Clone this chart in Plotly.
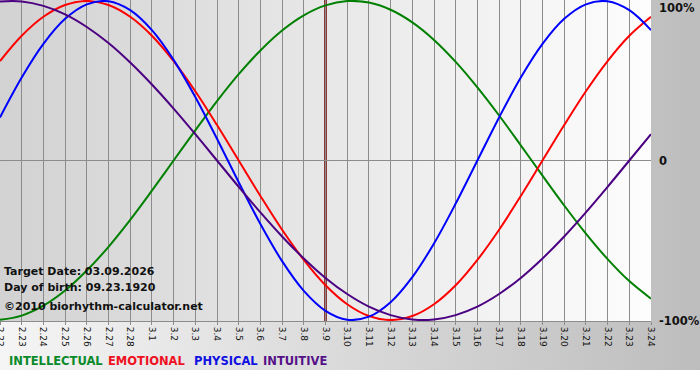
import base64
import plotly.graph_objects as go

# ---------------- data ----------------
dates = ["2.22", "2.23", "2.24", "2.25", "2.26", "2.27", "2.28", "3.1", "3.2", "3.3",
         "3.4", "3.5", "3.6", "3.7", "3.8", "3.9", "3.10", "3.11", "3.12", "3.13",
         "3.14", "3.15", "3.16", "3.17", "3.18", "3.19", "3.20", "3.21", "3.22", "3.23", "3.24"]

intellectual = [-99.9, -97.2, -91.0, -81.5, -69.0, -54.1, -37.2, -18.9, 0.0, 18.9,
                37.2, 54.1, 69.0, 81.5, 91.0, 97.2, 99.9, 99.0, 94.5, 86.6,
                75.6, 61.8, 45.8, 28.2, 9.5, -9.5, -28.2, -45.8, -61.8, -75.6, -86.6]
emotional = [62.3, 78.2, 90.1, 97.5, 100.0, 97.5, 90.1, 78.2, 62.3, 43.4,
             22.2, 0.0, -22.2, -43.4, -62.3, -78.2, -90.1, -97.5, -100.0, -97.5,
             -90.1, -78.2, -62.3, -43.4, -22.2, 0.0, 22.2, 43.4, 62.3, 78.2, 90.1]
physical = [27.0, 52.0, 73.1, 88.8, 97.9, 99.8, 94.2, 81.7, 63.1, 39.8,
            13.6, -13.6, -39.8, -63.1, -81.7, -94.2, -99.8, -97.9, -88.8, -73.1,
            -52.0, -27.0, 0.0, 27.0, 52.0, 73.1, 88.8, 97.9, 99.8, 94.2, 81.7]
intuitive = [99.7, 99.7, 96.9, 91.6, 83.7, 73.6, 61.4, 47.6, 32.5, 16.5,
             0.0, -16.5, -32.5, -47.6, -61.4, -73.6, -83.7, -91.6, -96.9, -99.7,
             -99.7, -96.9, -91.6, -83.7, -73.6, -61.4, -47.6, -32.5, -16.5, 0.0, 16.5]

series_names = ["INTELLECTUAL", "EMOTIONAL", "PHYSICAL", "INTUITIVE"]
series_values = [intellectual, emotional, physical, intuitive]

y_tick_values = [100, 0, -100]
y_tick_labels = ["100%", "0", "-100%"]

target_label = "3.9"
info_lines = ["Target Date: 03.09.2026", "Day of birth: 09.23.1920", "\u00a92010 biorhythm-calculator.net"]

# ---------------- styles ----------------
W, H = 700, 380
ML, MR, MT, MB = 0, 49, 0, 59
PW, PH = W - ML - MR, H - MT - MB
FONT = "DejaVu Sans"
series_colors = ["#008000", "#ff0000", "#0000ff", "#4b0082"]
legend_text_colors = ["#0a8a2a", "#ee1122", "#1010e0", "#551188"]
legend_x_px = [8, 107, 193, 262]
grid_color = "#8c8c8c"


def px_x(p):
    return (p - ML) / PW


def px_y(p):
    return (MT + PH - p) / PH


def grad_uri(c0, c1, w, h):
    svg = (f'<svg xmlns="http://www.w3.org/2000/svg" width="{w}" height="{h}" '
           f'viewBox="0 0 {w} {h}" preserveAspectRatio="none">'
           f'<defs><linearGradient id="g" x1="0" y1="0" x2="1" y2="0">'
           f'<stop offset="0" stop-color="{c0}"/><stop offset="1" stop-color="{c1}"/>'
           f'</linearGradient></defs><rect width="{w}" height="{h}" fill="url(#g)"/></svg>')
    return "data:image/svg+xml;base64," + base64.b64encode(svg.encode()).decode()


x_idx = list(range(len(dates)))
fig = go.Figure()
for name, vals, col in zip(series_names, series_values, series_colors):
    fig.add_trace(go.Scatter(x=x_idx, y=vals, mode="lines", name=name,
                             line=dict(color=col, width=2, shape="spline", smoothing=1),
                             hoverinfo="skip"))

target_x = dates.index(target_label)

images = [
    dict(source=grad_uri("#f5f5f5", "#bdbdbd", W, 370), xref="paper", yref="paper",
         x=px_x(0), y=px_y(0), sizex=W / PW, sizey=370 / PH, sizing="stretch",
         xanchor="left", yanchor="top", layer="below"),
    dict(source=grad_uri("#d2d2d2", "#fdfdfd", PW, PH), xref="paper", yref="paper",
         x=0, y=1, sizex=1, sizey=1, sizing="stretch",
         xanchor="left", yanchor="top", layer="below"),
]

shapes = [dict(type="line", xref="x", yref="paper", x0=target_x, x1=target_x, y0=0, y1=1,
               line=dict(color="#6e0000", width=2.5), layer="between")]

annotations = []
for lbl, val, ys in zip(y_tick_labels, y_tick_values, [-7, 0, -1]):
    annotations.append(dict(text=lbl, xref="paper", yref="y", x=px_x(657), y=val,
                            xanchor="left", yanchor="middle", yshift=ys, showarrow=False,
                            font=dict(family=FONT, size=11.5, color="#111111", weight="bold")))
for line, py in zip(info_lines, [271, 287, 306]):
    annotations.append(dict(text=line, xref="paper", yref="paper", x=px_x(2), y=px_y(py),
                            xanchor="left", yanchor="middle", showarrow=False,
                            font=dict(family=FONT, size=11, color="#111111", weight="bold")))
for name, col, lx in zip(series_names, legend_text_colors, legend_x_px):
    annotations.append(dict(text=name, xref="paper", yref="paper", x=px_x(lx - 1), y=px_y(361),
                            xanchor="left", yanchor="middle", showarrow=False,
                            font=dict(family=FONT, size=11.5, color=col, weight="bold")))

fig.update_layout(
    width=W, height=H,
    margin=dict(l=ML, r=MR, t=MT, b=MB, pad=0, autoexpand=False),
    paper_bgcolor="white", plot_bgcolor="rgba(0,0,0,0)",
    showlegend=False,
    font=dict(family=FONT, color="#111111"),
    images=images, shapes=shapes, annotations=annotations,
    xaxis=dict(range=[0, len(dates) - 1], tickmode="array", tickvals=x_idx, ticktext=dates,
               tickangle=90, tickfont=dict(family=FONT, size=9, color="#111111"),
               ticks="outside", ticklen=3, tickcolor=grid_color, ticklabeloverflow="allow",
               automargin=False,
               showgrid=True, gridcolor=grid_color, gridwidth=1,
               showline=True, linecolor=grid_color, linewidth=1, zeroline=False,
               fixedrange=True),
    yaxis=dict(range=[-100.6, 100.6], showgrid=False, showticklabels=False, automargin=False,
               zeroline=True, zerolinecolor=grid_color, zerolinewidth=1,
               showline=False, fixedrange=True),
)

fig.write_html("out.html", config={"displayModeBar": False},
               post_script="document.body.style.margin='0';document.body.style.overflow='hidden';")
